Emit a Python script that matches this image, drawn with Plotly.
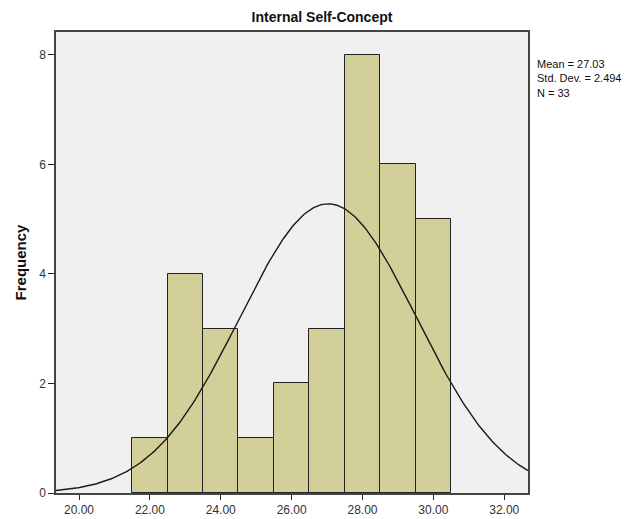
import numpy as np
import plotly.graph_objects as go

# Histogram bins (bin width 1.0) and counts
bin_centers = [22, 23, 24, 25, 26, 27, 28, 29, 30]
counts = [1, 4, 3, 1, 2, 3, 8, 6, 5]

# Summary statistics shown beside the chart
mean_val = 27.03
std_val = 2.494
n_val = 33
bin_width = 1.0

x_ticks = [20, 22, 24, 26, 28, 30, 32]
y_ticks = [0, 2, 4, 6, 8]

# Fitted normal curve, scaled to counts
xs = np.linspace(19.35, 32.67, 300)
ys = n_val * bin_width / (std_val * np.sqrt(2 * np.pi)) * np.exp(-0.5 * ((xs - mean_val) / std_val) ** 2)

fig = go.Figure()
fig.add_trace(go.Bar(
    x=bin_centers, y=counts, width=bin_width,
    marker=dict(color="#d3cf98", line=dict(color="#222222", width=1)),
    hoverinfo="x+y",
))
fig.add_trace(go.Scatter(
    x=xs, y=ys, mode="lines",
    line=dict(color="#1a1a1a", width=1.4),
    hoverinfo="skip",
))

fig.update_layout(
    width=644, height=519,
    margin=dict(l=56, r=116, t=32, b=26, autoexpand=False),
    paper_bgcolor="white",
    plot_bgcolor="#f0f0f0",
    showlegend=False,
    bargap=0,
    font=dict(family="Liberation Sans, Arial, sans-serif", size=12, color="#333333"),
    title=dict(
        text="<b>Internal Self-Concept</b>",
        x=0.5, xanchor="center", y=1 - 17 / 519, yanchor="middle",
        font=dict(size=14, color="#111111"),
    ),
    xaxis=dict(
        range=[19.35, 32.67],
        tickvals=x_ticks,
        ticktext=[f"{v:.2f}" for v in x_ticks],
        ticks="outside", ticklen=5, tickcolor="#222222",
        showgrid=False, zeroline=False, automargin=False,
        showline=True, linecolor="#444444", linewidth=1.5, mirror=True,
        tickfont=dict(size=12, color="#333333"),
    ),
    yaxis=dict(
        range=[0, 8.415],
        tickvals=y_ticks,
        ticks="outside", ticklen=6, tickcolor="#222222",
        showgrid=False, zeroline=False, automargin=False,
        showline=True, linecolor="#444444", linewidth=1.5, mirror=True,
        tickfont=dict(size=12, color="#333333"),
        title=dict(text="<b>Frequency</b>", font=dict(size=15, color="#111111"), standoff=9),
    ),
)

fig.add_annotation(
    xref="paper", yref="paper",
    x=1.0, y=1 - (56 - 32) / 461,
    xshift=7,
    xanchor="left", yanchor="top", align="left",
    showarrow=False,
    text=f"Mean = {mean_val:.2f}<br>Std. Dev. = {std_val:.3f}<br>N = {n_val}",
    font=dict(size=11, color="#111111"),
)

fig.write_html("out.html")
